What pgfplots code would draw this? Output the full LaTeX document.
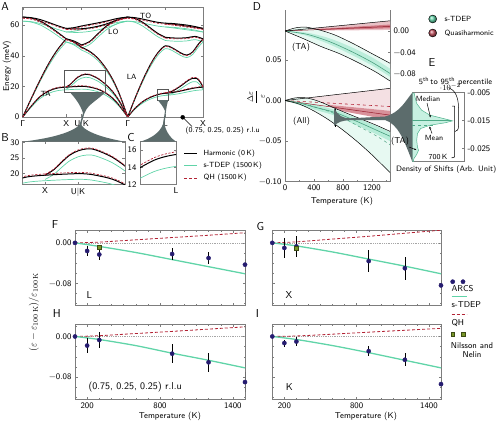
\documentclass[border=0pt]{standalone}
\usepackage{fontspec}
\usepackage{pgfplots}
\pgfplotsset{compat=1.18}
\usepackage{pgfplotstable}
\usepgfplotslibrary{fillbetween}
\usetikzlibrary{arrows.meta}
\renewcommand{\familydefault}{\sfdefault}
\definecolor{tdep}{RGB}{96,212,168}
\definecolor{qh}{RGB}{178,34,52}
\definecolor{arcs}{RGB}{38,28,112}
\definecolor{nil}{RGB}{120,150,40}
\definecolor{fan}{RGB}{92,108,108}
\definecolor{axg}{RGB}{125,125,125}
\newcommand{\fs}{\fontsize{8.5}{10}\selectfont}
\newcommand{\fsm}{\fontsize{7.5}{9}\selectfont}
\newcommand{\fsl}{\fontsize{11.5}{13}\selectfont}
\newcommand{\fsb}{\fontsize{10}{12}\selectfont}

\pgfplotsset{
  base/.style={scale only axis, anchor=south west,
    axis line style={draw=axg, line width=0.5pt},
    tick style={draw=axg, line width=0.4pt},
    tick align=inside, major tick length=2.5pt, minor tick length=1.5pt,
    tick label style={font=\fs, text=black}, label style={font=\fs}},
  hp/.style={black, line width=1.0pt, smooth, tension=0.55},
  qp/.style={qh, line width=0.7pt, dash pattern=on 2.2pt off 1.5pt, smooth, tension=0.55},
  tp/.style={tdep, line width=0.7pt, smooth, tension=0.55},
  arcsp/.style={only marks, mark=*, mark size=2.1pt, mark options={draw=arcs, fill=arcs},
    error bars/.cd, y dir=both, y explicit, error bar style={black, line width=0.6pt}, error mark=none},
  nilsq/.style={only marks, mark=square*, mark size=1.9pt, mark options={fill=nil, draw=nil!50!black, line width=0.4pt}},
  tline/.style={tdep, line width=1.3pt, smooth},
  qline/.style={qh, line width=0.8pt, dash pattern=on 3pt off 2pt, smooth},
  zline/.style={gray!70, line width=0.5pt, dash pattern=on 0.6pt off 1.2pt},
  fgh/.style={base, height=75pt, xmin=100, xmax=1500, ymin=-0.124, ymax=0.024,
    xtick={200,800,1400}, xticklabels={200,800,1400},
    minor xtick={100,300,400,500,600,700,900,1000,1100,1200,1300,1500},
    ytick={-0.08,0}, yticklabels={−0.08,0.00},
    minor ytick={-0.12,-0.1,-0.06,-0.04,-0.02,0.02}, clip mode=individual},
}

% ---------- dispersion bands: x, harmonic (h), QH 1500K (q), s-TDEP 1500K (t)
\pgfplotstableread{
x h q t
0 0 0 0
8.7 7.2 7.34 6.55
17.4 13.3 13.57 12.10
26.1 17.0 17.34 15.47
34.8 18.9 19.28 17.20
43.5 19.5 19.89 17.75
nan nan nan nan
43.5 19.5 19.89 17.75
51.2 19.8 20.20 18.02
58.9 20.0 20.40 18.20
63 19.9 20.30 18.11
67 19.5 19.89 17.75
75 18.2 18.56 16.56
83 15.6 15.91 14.20
90 12.2 12.44 11.10
97 7.2 7.34 6.55
105 0 0 0
nan nan nan nan
105 0 0 0
112.5 5.8 5.92 5.28
120 10.0 10.20 9.10
127.5 12.8 13.06 11.65
135 14.6 14.89 13.29
139 15.2 15.50 13.83
142.7 15.5 15.81 14.11
nan nan nan nan
142.7 15.5 15.81 14.11
150 16.0 16.32 14.56
157.5 16.9 17.24 15.38
165 18.0 18.36 16.38
172.5 19.0 19.38 17.29
180.3 19.5 19.89 17.75
}\bOne
\pgfplotstableread{
x h q t
43.5 19.5 19.70 18.14
47.5 21.2 21.41 19.72
51.2 23.6 23.84 21.95
55 25.9 26.16 24.09
59 27.3 27.57 25.39
63 27.9 28.18 25.95
67 27.6 27.88 25.67
75 25.2 25.45 23.44
83 21.2 21.41 19.72
90 16.5 16.67 15.35
97 10.0 10.10 9.30
105 0 0 0
nan nan nan nan
142.7 15.5 15.81 14.11
150 17.0 17.34 15.47
157.5 20.0 20.40 18.20
165 23.6 24.07 21.48
170 25.3 25.81 23.02
174 25.2 25.70 22.93
177.5 22.8 23.26 20.75
180.3 19.5 19.89 17.75
}\bTwo
\pgfplotstableread{
x h q t
0 0 0 0
8.7 12.3 12.18 11.81
17.4 24.2 23.96 23.23
26.1 35.0 34.65 33.60
34.8 44.0 43.56 42.24
43.5 51.0 50.49 48.96
nan nan nan nan
43.5 51.0 50.49 48.96
51.2 49.0 48.51 47.04
58.9 45.5 45.05 43.68
nan nan nan nan
58.9 45.5 45.05 43.68
67 42.8 42.37 41.09
75 38.5 38.12 36.96
83 32.0 31.68 30.72
90 24.5 24.26 23.52
97 14.5 14.36 13.92
105 0 0 0
nan nan nan nan
105 0 0 0
112.5 12.5 12.38 12.00
120 24.0 23.76 23.04
127.5 34.0 33.66 32.64
135 41.8 41.38 40.13
142.7 46.5 46.04 44.64
150 45.0 44.55 43.20
157.5 42.0 41.58 40.32
164 40.4 40.00 38.78
170 42.5 42.08 40.80
175 47.0 46.53 45.12
180.3 51.0 50.49 48.96
}\bThree
\pgfplotstableread{
x h q t
0 65.2 64.55 62.59
8.7 64.5 63.86 61.92
17.4 62.6 61.97 60.10
26.1 59.3 58.71 56.93
34.8 55.3 54.75 53.09
43.5 51.0 50.49 48.96
nan nan nan nan
43.5 51.0 50.49 48.96
51.2 49.6 49.10 47.62
58.9 47.0 46.53 45.12
nan nan nan nan
58.9 47.0 46.53 45.12
67 49.3 48.81 47.33
75 54.2 53.66 52.03
83 59.0 58.41 56.64
90 62.0 61.38 59.52
97 64.0 63.36 61.44
105 65.2 64.55 62.59
nan nan nan nan
105 65.2 64.55 62.59
112.5 64.3 63.66 61.73
120 61.8 61.18 59.33
127.5 58.2 57.62 55.87
135 54.6 54.05 52.42
142.7 52.0 51.48 49.92
nan nan nan nan
142.7 52.0 51.48 49.92
150 51.6 51.08 49.54
157.5 51.5 50.99 49.44
165 51.8 51.28 49.73
172.5 52.6 52.07 50.50
180.3 51.0 50.49 48.96
}\bFour
\pgfplotstableread{
x h q t
0 65.2 64.55 62.59
8.7 64.8 64.15 62.21
17.4 63.6 62.96 61.06
26.1 61.7 61.08 59.23
34.8 59.6 59.00 57.22
43.5 57.8 57.22 55.49
nan nan nan nan
43.5 57.8 57.22 55.49
51.2 57.5 56.93 55.20
58.9 57.6 57.02 55.30
67 58.2 57.62 55.87
75 59.2 58.61 56.83
83 60.6 59.99 58.18
90 62.2 61.58 59.71
97 64.0 63.36 61.44
105 65.2 64.55 62.59
nan nan nan nan
105 65.2 64.55 62.59
112.5 64.8 64.15 62.21
120 63.9 63.26 61.34
127.5 62.8 62.17 60.29
135 61.8 61.18 59.33
142.7 61.2 60.59 58.75
150 60.6 59.99 58.18
157.5 59.9 59.30 57.50
165 59.2 58.61 56.83
172.5 58.5 57.92 56.16
180.3 57.8 57.22 55.49
}\bFive
\pgfplotstableread{
x h q t
43.5 57.8 57.22 55.49
51.2 58.3 57.72 55.97
58.9 59.4 58.81 57.02
67 60.4 59.80 57.98
75 61.4 60.79 58.94
83 62.5 61.88 60.00
90 63.6 62.96 61.06
97 64.6 63.95 62.02
105 65.2 64.55 62.59
nan nan nan nan
142.7 61.2 60.59 58.75
150 61.0 60.39 58.56
157.5 60.5 59.90 58.08
165 59.9 59.30 57.50
172.5 59.0 58.41 56.64
180.3 57.8 57.22 55.49
}\bSix

\begin{document}
\begin{tikzpicture}

% ================= Panel A =================
\begin{axis}[base, at={(22.7pt,-117pt)}, width=180.3pt, height=109.7pt,
  xmin=0, xmax=180.3, ymin=0, ymax=71.6, unbounded coords=jump,
  xtick={0,43.5,58.9,105,142.7,180.3}, xticklabels={Γ,X,U|K,Γ,L,X},
  ytick={0,20,40,60}, yticklabels={0,20,40,60}]
\addplot[tp] table[x=x,y=t]{\bOne};
\addplot[tp] table[x=x,y=t]{\bTwo};
\addplot[tp] table[x=x,y=t]{\bThree};
\addplot[tp] table[x=x,y=t]{\bFour};
\addplot[tp] table[x=x,y=t]{\bFive};
\addplot[tp] table[x=x,y=t]{\bSix};
\addplot[hp] table[x=x,y=h]{\bOne};
\addplot[hp] table[x=x,y=h]{\bTwo};
\addplot[hp] table[x=x,y=h]{\bThree};
\addplot[hp] table[x=x,y=h]{\bFour};
\addplot[hp] table[x=x,y=h]{\bFive};
\addplot[hp] table[x=x,y=h]{\bSix};
\addplot[qp] table[x=x,y=q]{\bOne};
\addplot[qp] table[x=x,y=q]{\bTwo};
\addplot[qp] table[x=x,y=q]{\bThree};
\addplot[qp] table[x=x,y=q]{\bFour};
\addplot[qp] table[x=x,y=q]{\bFive};
\addplot[qp] table[x=x,y=q]{\bSix};
\draw[axg!70!black, line width=0.5pt] (axis cs:41.6,16.1) rectangle (axis cs:82.3,30.6);
\draw[axg!70!black, line width=0.5pt] (axis cs:135,11.1) rectangle (axis cs:145.6,18.1);
\end{axis}

% ================= Panel B =================
\begin{axis}[base, at={(22.7pt,-184.3pt)}, width=102.3pt, height=42.6pt,
  xmin=33.1, xmax=80.8, ymin=16.6, ymax=30.2, unbounded coords=jump,
  xtick={43.5,58.9}, xticklabels={X,U|K}, ytick={20,25,30}, yticklabels={20,25,30}]
\addplot[tp] table[x=x,y=t]{\bOne};
\addplot[tp] table[x=x,y=t]{\bTwo};
\addplot[hp] table[x=x,y=h]{\bOne};
\addplot[hp] table[x=x,y=h]{\bTwo};
\addplot[qp] table[x=x,y=q]{\bOne};
\addplot[qp] table[x=x,y=q]{\bTwo};
\end{axis}

% ================= Panel C =================
\begin{axis}[base, at={(140pt,-184.3pt)}, width=36pt, height=42.6pt,
  xmin=132, xmax=142.7, ymin=12, ymax=17, unbounded coords=jump,
  xtick={142.7}, xticklabels={L}, ytick={12,14,16}, yticklabels={12,14,16}]
\addplot[tp] table[x=x,y=t]{\bOne};
\addplot[hp] table[x=x,y=h]{\bOne};
\addplot[qp] table[x=x,y=q]{\bOne};
\end{axis}

% ================= Panel D (All, left scale) =================
\begin{axis}[base, at={(285pt,-181.7pt)}, width=105pt, height=171.7pt,
  xmin=0, xmax=1450, ymin=-0.10, ymax=0.1115,
  axis x line*=bottom, axis y line*=left,
  xtick={0,400,800,1200}, xticklabels={0,400,800,1200}, minor xtick={200,600,1000,1400},
  ytick={-0.10,-0.05,0,0.05}, yticklabels={−0.10,−0.05,0.00,0.05}]
\addplot[name path=rmax, draw=none] coordinates {(0,0) (1450,0.015)};
\addplot[name path=rbu, draw=none] coordinates {(0,0) (1450,-0.0127)};
\addplot[name path=rbl, draw=none] coordinates {(0,0) (1450,-0.024)};
\addplot[qh!14] fill between[of=rmax and rbu];
\addplot[qh!50] fill between[of=rbu and rbl];
\addplot[qh!85!black, line width=0.5pt] coordinates {(0,0)(1450,-0.018)};
\addplot[qh, line width=0.6pt, dashed] coordinates {(0,0)(1450,-0.0074)};
\addplot[name path=gu, draw=none, smooth] coordinates {(0,0)(125,0.003)(250,0.0037)(400,0.001)(550,-0.004)(700,-0.010)(1000,-0.021)(1250,-0.030)(1450,-0.038)};
\addplot[name path=gl, draw=none, smooth] coordinates {(0,0)(200,-0.0045)(400,-0.0129)(600,-0.0236)(800,-0.0364)(1000,-0.0508)(1200,-0.0668)(1450,-0.0887)};
\addplot[tdep!15] fill between[of=gu and gl];
\addplot[name path=gbu, draw=none, smooth] coordinates {(0,0)(400,-0.005)(700,-0.012)(1000,-0.022)(1250,-0.031)(1450,-0.039)};
\addplot[name path=gbl, draw=none, smooth] coordinates {(0,0)(400,-0.011)(700,-0.019)(1000,-0.031)(1250,-0.041)(1450,-0.050)};
\addplot[tdep!45] fill between[of=gbu and gbl];
\addplot[tdep!75!black, line width=0.6pt, smooth] coordinates {(0,0)(200,-0.003)(400,-0.008)(700,-0.015)(1000,-0.026)(1250,-0.036)(1450,-0.044)};
\addplot[tdep!75!black, line width=0.5pt, dashed, smooth] coordinates {(0,0)(300,-0.005)(700,-0.0166)(1000,-0.031)(1250,-0.043)(1450,-0.0545)};
\addplot[black, line width=0.5pt, smooth] coordinates {(0,0)(125,0.003)(250,0.0037)(400,0.001)(550,-0.004)(700,-0.010)(1000,-0.021)(1250,-0.030)(1450,-0.038)};
\addplot[black, line width=0.5pt, smooth] coordinates {(0,0)(200,-0.0045)(400,-0.0129)(600,-0.0236)(800,-0.0364)(1000,-0.0508)(1200,-0.0668)(1450,-0.0887)};
\addplot[black, line width=0.5pt] coordinates {(0,0) (1450,0.015)};
\addplot[black, line width=1.1pt] coordinates {(700,-0.010)(700,-0.033)};
\end{axis}

% ================= Panel D (TA, right scale) =================
\begin{axis}[base, at={(285pt,-181.7pt)}, width=105pt, height=171.7pt,
  xmin=0, xmax=1450, ymin=-0.2804, ymax=0.0391,
  axis x line=none, axis y line*=right,
  ytick={-0.08,-0.04,0}, yticklabels={−0.08,−0.04,0.00}]
\addplot[name path=tmx, draw=none] coordinates {(0,0)(1450,0.019)};
\addplot[name path=tmn, draw=none] coordinates {(0,0)(1450,0.002)};
\addplot[qh!28] fill between[of=tmx and tmn];
\addplot[name path=tb1, draw=none] coordinates {(0,0)(1450,0.012)};
\addplot[name path=tb2, draw=none] coordinates {(0,0)(1450,0.005)};
\addplot[qh!60] fill between[of=tb1 and tb2];
\addplot[qh!80!black, line width=0.5pt] coordinates {(0,0)(1450,0.0085)};
\addplot[name path=tgu, draw=none, smooth] coordinates {(0,0)(150,0.006)(300,0.007)(500,0.001)(700,-0.008)(950,-0.024)(1200,-0.042)(1450,-0.060)};
\addplot[name path=tgl, draw=none, smooth] coordinates {(0,0)(250,-0.014)(500,-0.029)(750,-0.042)(1000,-0.058)(1250,-0.076)(1450,-0.093)};
\addplot[tdep!15] fill between[of=tgu and tgl];
\addplot[name path=tgbu, draw=none, smooth] coordinates {(0,0)(300,-0.003)(600,-0.013)(900,-0.029)(1200,-0.049)(1450,-0.070)};
\addplot[name path=tgbl, draw=none, smooth] coordinates {(0,0)(300,-0.009)(600,-0.024)(900,-0.043)(1200,-0.064)(1450,-0.085)};
\addplot[tdep!42] fill between[of=tgbu and tgbl];
\addplot[tdep!75!black, line width=0.6pt, smooth] coordinates {(0,0)(300,-0.006)(600,-0.019)(900,-0.037)(1200,-0.058)(1450,-0.079)};
\addplot[black, line width=0.5pt, smooth] coordinates {(0,0)(150,0.006)(300,0.007)(500,0.001)(700,-0.008)(950,-0.024)(1200,-0.042)(1450,-0.060)};
\addplot[black, line width=0.5pt, smooth] coordinates {(0,0)(250,-0.014)(500,-0.029)(750,-0.042)(1000,-0.058)(1250,-0.076)(1450,-0.093)};
\addplot[black, line width=0.5pt] coordinates {(0,0)(1450,0.019)};
\end{axis}

% ================= Panel E =================
\begin{axis}[base, at={(412.3pt,-161.7pt)}, width=51.7pt, height=69pt,
  xmin=0, xmax=1, ymin=-0.0298, ymax=-0.005, xtick=\empty,
  ytick={-0.025,-0.015,-0.005}, yticklabels={-0.025,-0.015,-0.005}, yticklabel pos=right]
\addplot[fill=tdep!35, draw=tdep!85!black, line width=0.5pt] coordinates {(0,-0.0050)(0.04,-0.0053)(0.05,-0.00645)(0.085,-0.00886)(0.18,-0.01127)(0.34,-0.01307)(0.60,-0.01428)(0.78,-0.01512)(0.63,-0.01584)(0.34,-0.01669)(0.16,-0.01789)(0.10,-0.0197)(0.085,-0.0221)(0.10,-0.0245)(0.12,-0.0257)(0.085,-0.0272)(0.03,-0.0287)(0.02,-0.0298)(0,-0.0298)(0,-0.0050)};
\addplot[tdep!80!black, line width=0.7pt] coordinates {(0,-0.0148)(0.74,-0.0148)};
\addplot[tdep!80!black, line width=0.6pt, dashed] coordinates {(0,-0.0166)(0.40,-0.0166)};
\end{axis}

% ================= Panels F-I =================
\begin{axis}[fgh, at={(75pt,-305.7pt)}, width=170pt, xticklabels={}]
\addplot[zline] coordinates {(100,0)(1500,0)};
\addplot[qline] coordinates {(100,0)(300,0.0015)(600,0.006)(900,0.0105)(1200,0.015)(1500,0.020)};
\addplot[tline] coordinates {(100,0)(300,-0.007)(600,-0.019)(900,-0.033)(1200,-0.047)(1500,-0.061)};
\addplot[arcsp] coordinates {(100,0) +- (0,0) (200,-0.016) +- (0,0.009) (300,-0.023) +- (0,0.010) (900,-0.022) +- (0,0.012) (1200,-0.030) +- (0,0.012) (1500,-0.043) +- (0,0.012)};
\addplot[nilsq] coordinates {(296,-0.008)};
\end{axis}
\begin{axis}[fgh, at={(272.3pt,-305.7pt)}, width=168.7pt, xticklabels={}, yticklabels={}]
\addplot[zline] coordinates {(100,0)(1500,0)};
\addplot[qline] coordinates {(100,0)(300,0.002)(600,0.0075)(900,0.013)(1200,0.019)(1500,0.025)};
\addplot[tline] coordinates {(100,0)(300,-0.006)(600,-0.018)(900,-0.032)(1200,-0.046)(1500,-0.061)};
\addplot[arcsp] coordinates {(100,0) +- (0,0) (200,-0.010) +- (0,0.020) (300,-0.007) +- (0,0.020) (900,-0.036) +- (0,0.022) (1200,-0.050) +- (0,0.023) (1500,-0.084) +- (0,0.010)};
\addplot[nilsq] coordinates {(296,-0.010)};
\end{axis}
\begin{axis}[fgh, at={(75pt,-399.3pt)}, width=170pt]
\addplot[zline] coordinates {(100,0)(1500,0)};
\addplot[qline] coordinates {(100,0)(300,0.0015)(600,0.0058)(900,0.010)(1200,0.0145)(1500,0.019)};
\addplot[tline] coordinates {(100,0)(300,-0.006)(600,-0.018)(900,-0.033)(1200,-0.047)(1500,-0.062)};
\addplot[arcsp] coordinates {(100,0) +- (0,0) (200,-0.018) +- (0,0.0156) (300,-0.007) +- (0,0.015) (900,-0.034) +- (0,0.019) (1200,-0.051) +- (0,0.019) (1500,-0.090) +- (0,0.019)};
\end{axis}
\begin{axis}[fgh, at={(272.3pt,-399.3pt)}, width=168.7pt, yticklabels={}]
\addplot[zline] coordinates {(100,0)(1500,0)};
\addplot[qline] coordinates {(100,0)(300,0.001)(600,0.0045)(900,0.0085)(1200,0.0122)(1500,0.016)};
\addplot[tline] coordinates {(100,0)(300,-0.006)(600,-0.018)(900,-0.032)(1200,-0.047)(1500,-0.062)};
\addplot[arcsp] coordinates {(100,0) +- (0,0) (200,-0.013) +- (0,0.007) (300,-0.010) +- (0,0.009) (900,-0.029) +- (0,0.010) (1200,-0.046) +- (0,0.013) (1500,-0.094) +- (0,0.008)};
\end{axis}

% ================= Overlay (pixel coordinates, y down) =================
\begin{axis}[at={(0pt,0pt)}, anchor=north west, scale only axis, width=498pt, height=422pt,
  xmin=0, xmax=498, ymin=0, ymax=422, y dir=reverse, hide axis, clip=false]
\fill[fan] (70,92.3) -- (105,92.3) .. controls (98,100) and (88,104) .. (84.5,113) -- (81,125) .. controls (88,134) and (110,139) .. (125,141.7) -- (22.7,141.7) .. controls (45,139) and (70,134) .. (79.5,125) -- (83,113) .. controls (80,104) and (75,98) .. (70,92.3) -- cycle;
\fill[fan] (157.7,100) -- (168.3,100) .. controls (167,104) and (166.5,107) .. (166,111) -- (164.5,124) .. controls (166,133) and (172,139) .. (176,141.7) -- (140,141.7) .. controls (150,139) and (160,133) .. (163,124) -- (165,111) .. controls (163,106) and (160,103) .. (157.7,100) -- cycle;
\fill[fan] (334,107.3) .. controls (338,116) and (342,118) .. (350,118.3) -- (385,116.5) .. controls (400,113) and (406,100) .. (412.3,92.7) -- (412.3,161.7) .. controls (404,140) and (398,124) .. (385,120) -- (350,120.2) .. controls (342,120.5) and (338,122) .. (334,126) -- cycle;
\node[font=\fsl] at (5,7) {A};
\node[font=\fsl] at (5,138) {B};
\node[font=\fsl] at (131,137.5) {C};
\node[font=\fsl] at (257,7) {D};
\node[font=\fsl] at (432,63) {E};
\node[font=\fsl] at (55,225) {F};
\node[font=\fsl] at (260.5,226.7) {G};
\node[font=\fsl] at (56.7,313.3) {H};
\node[font=\fsl] at (257.3,314) {I};
\node[font=\fs, rotate=90] at (7,66) {Energy (meV)};
\node[font=\fsm] at (145.5,15.5) {TO};
\node[font=\fsm] at (113.3,32.3) {LO};
\node[font=\fsm] at (131.7,76.7) {LA};
\node[font=\fsm] at (45.7,94.3) {TA};
\addplot[black, line width=0.5pt] coordinates {(182.7,117.3)(192,126.5)};
\addplot[only marks, mark=*, mark size=2pt, mark options={fill=black}] coordinates {(182.7,117.3)};
\node[font=\fsm, anchor=west] at (182,130.7) {(0.75, 0.25, 0.25) r.l.u};
\addplot[black, line width=1pt] coordinates {(184,153.3)(197,153.3)};
\addplot[tdep, line width=0.9pt] coordinates {(184,165.5)(197,165.5)};
\addplot[qh, line width=0.9pt, dash pattern=on 3pt off 2pt] coordinates {(184,178)(197,178)};
\node[font=\fsm, anchor=west] at (200,153.3) {Harmonic (0\,K)};
\node[font=\fsm, anchor=west] at (200,165.5) {s-TDEP (1500\,K)};
\node[font=\fsm, anchor=west] at (200,178) {QH (1500\,K)};
\node[font=\fs, rotate=90] at (256,97) {$\displaystyle\frac{\Delta\varepsilon}{\varepsilon}$};
\node[font=\fs] at (342,201.7) {Temperature (K)};
\node[font=\fs] at (301,47.3) {(TA)};
\node[font=\fs] at (301.5,121.7) {(All)};
\addplot[only marks, mark=ball, mark size=4pt, ball color=tdep] coordinates {(432.7,19)};
\addplot[only marks, mark=ball, mark size=4pt, ball color=qh!80] coordinates {(432.7,33)};
\node[font=\fsm, anchor=west] at (441,19) {s-TDEP};
\node[font=\fsm, anchor=west] at (441,33) {Quasiharmonic};
\node[font=\fontsize{8}{9}\selectfont, inner sep=1pt] at (455.5,81.5) {5\textsuperscript{th}\,to 95\textsuperscript{th} percentile};
\node[font=\fsm] at (428,99) {Median};
\node[font=\fsm] at (434,138.3) {Mean};
\node[font=\fsm] at (438,157.3) {700\,K};
\node[font=\fs] at (400,141.7) {(TA)};
\node[font=\fontsize{7.8}{9}\selectfont, anchor=east, inner sep=1pt] at (497.5,169.3) {Density of Shifts (Arb. Unit)};
\draw[black, line width=0.5pt] (448.5,87.5) .. controls (455,90) and (458.5,97) .. (458.5,108) -- (458.5,126) .. controls (458.5,130) and (457,131) .. (455,131.5);
\draw[black, line width=0.5pt] (452,106) -- (454.5,106) -- (454.5,157) -- (451.5,158);
\draw[black, line width=0.5pt, -{Stealth[length=2.5pt]}] (427,103) -- (430.5,117.5);
\draw[black, line width=0.5pt, -{Stealth[length=2.5pt]}] (432,133.5) -- (429.5,126.5);
\draw[black, line width=0.5pt, -{Stealth[length=2.5pt]}] (409,147) -- (416.5,150);
\node[font=\fsb, rotate=90] at (34,312) {$(\varepsilon-\varepsilon_{100\,\mathrm{K}})/\varepsilon_{100\,\mathrm{K}}$};
\node[font=\fs] at (170,416.7) {Temperature (K)};
\node[font=\fs] at (366,416.7) {Temperature (K)};
\node[font=\fsb] at (89.3,295) {L};
\node[font=\fsb] at (289,295) {X};
\node[font=\fsb] at (289.3,387.3) {K};
\node[font=\fsb, anchor=west] at (85,387.3) {(0.75, 0.25, 0.25) r.l.u};
\addplot[only marks, mark=*, mark size=2.1pt, mark options={draw=arcs, fill=arcs}] coordinates {(452.7,281.7)(463,281.7)};
\node[font=\fs, anchor=west] at (448,289) {ARCS};
\addplot[tdep, line width=1.3pt] coordinates {(451.7,296.7)(466.7,296.7)};
\node[font=\fs, anchor=west] at (448,305) {s-TDEP};
\addplot[qh, line width=0.8pt, dash pattern=on 3pt off 2pt] coordinates {(451.7,314)(466.7,314)};
\node[font=\fs, anchor=west] at (448,322.7) {QH};
\addplot[nilsq] coordinates {(452.7,334.3)(463.3,334.3)};
\node[font=\fs] at (472,345.3) {Nilsson and};
\node[font=\fs] at (472,355) {Nelin};
\end{axis}

\pgfresetboundingbox
\useasboundingbox (0pt,0pt) rectangle (498pt,-422pt);
\end{tikzpicture}
\end{document}
